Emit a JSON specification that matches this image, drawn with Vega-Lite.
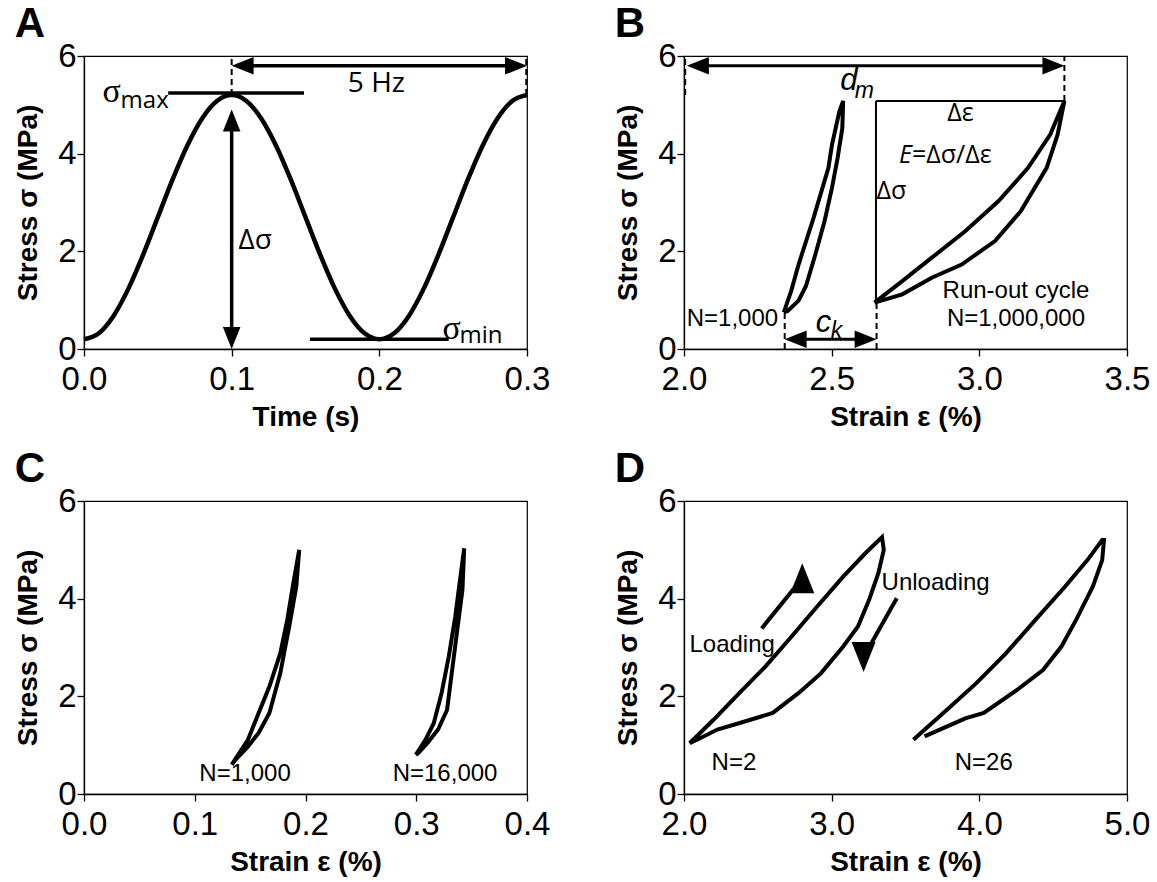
{
  "$schema": "https://vega.github.io/schema/vega-lite/v6.json",
  "background": "white",
  "padding": {"left": 14, "top": 2, "right": 5, "bottom": 5},
  "config": {
    "view": {"stroke": "black", "strokeWidth": 1.2},
    "font": "Liberation Sans",
    "axis": {"grid": false, "domainColor": "black", "domainWidth": 1.3, "tickColor": "black", "tickWidth": 1.3, "tickSize": 7,
      "labelFont": "Liberation Sans", "labelFontSize": 33, "labelColor": "black", "labelFlush": false, "labelOverlap": false, "labelBound": false,
      "titleFont": "Liberation Sans", "titleFontSize": 28, "titleFontWeight": "bold", "titleColor": "black"},
    "axisX": {"labelPadding": 7, "titlePadding": 7},
    "axisY": {"labelPadding": 1, "titlePadding": 15},
    "title": {"anchor": "start", "frame": "bounds", "fontSize": 42, "fontWeight": "bold", "color": "black", "font": "Liberation Sans", "offset": -6}
  },
  "datasets": {
    "A_curve": [
      {"x":0,"y":0.2},{"x":0.01,"y":0.322},{"x":0.02,"y":0.678},{"x":0.03,"y":1.231},{"x":0.04,"y":1.928},{"x":0.05,"y":2.7},
      {"x":0.06,"y":3.472},{"x":0.07,"y":4.169},{"x":0.08,"y":4.722},{"x":0.09,"y":5.078},{"x":0.1,"y":5.2},
      {"x":0.11,"y":5.078},{"x":0.12,"y":4.722},{"x":0.13,"y":4.169},{"x":0.14,"y":3.472},{"x":0.15,"y":2.7},
      {"x":0.16,"y":1.928},{"x":0.17,"y":1.231},{"x":0.18,"y":0.678},{"x":0.19,"y":0.322},{"x":0.2,"y":0.2},
      {"x":0.21,"y":0.322},{"x":0.22,"y":0.678},{"x":0.23,"y":1.231},{"x":0.24,"y":1.928},{"x":0.25,"y":2.7},
      {"x":0.26,"y":3.472},{"x":0.27,"y":4.169},{"x":0.28,"y":4.722},{"x":0.29,"y":5.078},{"x":0.3,"y":5.2}
    ],
    "A_thick": [
      {"x":0.057,"x2":0.149,"y":5.24,"y2":5.24},
      {"x":0.153,"x2":0.247,"y":0.2,"y2":0.2},
      {"x":0.1,"x2":0.1,"y":0.224,"y2":4.68},
      {"x":0.1074,"x2":0.2926,"y":5.8,"y2":5.8}
    ],
    "A_dash": [
      {"x":0.1,"x2":0.1,"y":5.2,"y2":6},
      {"x":0.2995,"x2":0.2995,"y":5.2,"y2":6}
    ],
    "A_heads": [
      {"x":0.1,"y":4.68,"dir":"up"},
      {"x":0.1,"y":0.224,"dir":"down"},
      {"x":0.1074,"y":5.8,"dir":"left"},
      {"x":0.2926,"y":5.8,"dir":"right"}
    ],
    "A_sig": [{"x":0.0187,"y":5.27,"label":"σ"},{"x":0.249,"y":0.41,"label":"σ"}],
    "A_sub": [{"x":0.0248,"y":5.08,"label":"max"},{"x":0.2543,"y":0.26,"label":"min"}],
    "A_lbl": [{"x":0.1159,"y":2.22,"label":"Δσ"},{"x":0.198,"y":5.43,"label":"5 Hz"}],
    "B_loops": [
      {"loop":"a","i":1,"x":2.338,"y":0.75},{"loop":"a","i":2,"x":2.363,"y":1.19},{"loop":"a","i":3,"x":2.388,"y":1.73},
      {"loop":"a","i":4,"x":2.439,"y":2.69},{"loop":"a","i":5,"x":2.489,"y":3.71},{"loop":"a","i":6,"x":2.501,"y":4.18},
      {"loop":"a","i":7,"x":2.526,"y":4.86},{"loop":"a","i":8,"x":2.539,"y":5.08},{"loop":"a","i":9,"x":2.536,"y":4.52},
      {"loop":"a","i":10,"x":2.52,"y":3.91},{"loop":"a","i":11,"x":2.501,"y":3.3},{"loop":"a","i":12,"x":2.476,"y":2.62},
      {"loop":"a","i":13,"x":2.445,"y":1.94},{"loop":"a","i":14,"x":2.413,"y":1.29},{"loop":"a","i":15,"x":2.388,"y":0.99},
      {"loop":"a","i":16,"x":2.351,"y":0.78},{"loop":"a","i":17,"x":2.338,"y":0.75},
      {"loop":"b","i":1,"x":2.645,"y":0.95},{"loop":"b","i":2,"x":2.739,"y":1.39},{"loop":"b","i":3,"x":2.839,"y":1.87},
      {"loop":"b","i":4,"x":2.952,"y":2.41},{"loop":"b","i":5,"x":3.065,"y":3.03},{"loop":"b","i":6,"x":3.165,"y":3.71},
      {"loop":"b","i":7,"x":3.24,"y":4.39},{"loop":"b","i":8,"x":3.288,"y":5.08},{"loop":"b","i":9,"x":3.265,"y":4.39},
      {"loop":"b","i":10,"x":3.228,"y":3.71},{"loop":"b","i":11,"x":3.14,"y":2.82},{"loop":"b","i":12,"x":3.053,"y":2.21},
      {"loop":"b","i":13,"x":2.94,"y":1.73},{"loop":"b","i":14,"x":2.839,"y":1.46},{"loop":"b","i":15,"x":2.739,"y":1.12},
      {"loop":"b","i":16,"x":2.645,"y":0.95}
    ],
    "B_thin": [
      {"x":2.65,"x2":2.65,"y":0.95,"y2":5.08},
      {"x":2.65,"x2":3.288,"y":5.08,"y2":5.08}
    ],
    "B_dash": [
      {"x":2.004,"x2":2.004,"y":5.2,"y2":6},
      {"x":3.288,"x2":3.288,"y":5.08,"y2":6},
      {"x":2.341,"x2":2.341,"y":0,"y2":0.75},
      {"x":2.652,"x2":2.652,"y":0,"y2":0.95}
    ],
    "B_thick": [
      {"x":2.047,"x2":3.251,"y":5.8,"y2":5.8},
      {"x":2.378,"x2":2.615,"y":0.2,"y2":0.2}
    ],
    "B_heads": [
      {"x":2.047,"y":5.8,"dir":"left"},{"x":3.251,"y":5.8,"dir":"right"},
      {"x":2.378,"y":0.2,"dir":"left"},{"x":2.615,"y":0.2,"dir":"right"}
    ],
    "B_arial": [
      {"x":2.164,"y":0.61,"label":"N=1,000"},
      {"x":3.124,"y":1.19,"label":"Run-out cycle"},
      {"x":3.124,"y":0.61,"label":"N=1,000,000"}
    ],
    "B_gill": [{"x":2.936,"y":4.83,"label":"Δε"},{"x":2.702,"y":3.23,"label":"Δσ"}],
    "B_gill_left": [{"x":2.772,"y":3.97,"label":"=Δσ/Δε"}],
    "B_E": [{"x":2.772,"y":3.97,"label":"E"}],
    "B_ital": [{"x":2.558,"y":5.48,"label":"d"},{"x":2.472,"y":0.54,"label":"c"}],
    "B_ital_sub": [{"x":2.611,"y":5.29,"label":"m"},{"x":2.516,"y":0.37,"label":"k"}],
    "C_loops": [
      {"loop":"a","i":1,"x":0.1334,"y":0.6},{"loop":"a","i":2,"x":0.148,"y":1.11},{"loop":"a","i":3,"x":0.1577,"y":1.66},
      {"loop":"a","i":4,"x":0.1674,"y":2.2},{"loop":"a","i":5,"x":0.1772,"y":2.88},{"loop":"a","i":6,"x":0.1836,"y":3.57},
      {"loop":"a","i":7,"x":0.1885,"y":4.25},{"loop":"a","i":8,"x":0.1943,"y":5.0},{"loop":"a","i":9,"x":0.1917,"y":4.25},
      {"loop":"a","i":10,"x":0.1853,"y":3.43},{"loop":"a","i":11,"x":0.1772,"y":2.47},{"loop":"a","i":12,"x":0.1674,"y":1.66},
      {"loop":"a","i":13,"x":0.1577,"y":1.25},{"loop":"a","i":14,"x":0.148,"y":0.97},{"loop":"a","i":15,"x":0.1367,"y":0.7},
      {"loop":"a","i":16,"x":0.1334,"y":0.6},
      {"loop":"b","i":1,"x":0.2996,"y":0.8},{"loop":"b","i":2,"x":0.3083,"y":1.11},{"loop":"b","i":3,"x":0.3158,"y":1.45},
      {"loop":"b","i":4,"x":0.3229,"y":2.07},{"loop":"b","i":5,"x":0.3294,"y":2.82},{"loop":"b","i":6,"x":0.3352,"y":3.63},
      {"loop":"b","i":7,"x":0.3391,"y":4.31},{"loop":"b","i":8,"x":0.3433,"y":5.03},{"loop":"b","i":9,"x":0.3417,"y":4.18},
      {"loop":"b","i":10,"x":0.3359,"y":3.16},{"loop":"b","i":11,"x":0.3278,"y":1.72},{"loop":"b","i":12,"x":0.3197,"y":1.32},
      {"loop":"b","i":13,"x":0.31,"y":1.04},{"loop":"b","i":14,"x":0.3019,"y":0.84},{"loop":"b","i":15,"x":0.2996,"y":0.8}
    ],
    "C_lbl": [{"x":0.1454,"y":0.4,"label":"N=1,000"},{"x":0.326,"y":0.4,"label":"N=16,000"}],
    "D_loops": [
      {"loop":"a","i":1,"x":2.038,"y":1.04},{"loop":"a","i":2,"x":2.2,"y":1.52},{"loop":"a","i":3,"x":2.376,"y":2.07},
      {"loop":"a","i":4,"x":2.551,"y":2.61},{"loop":"a","i":5,"x":2.727,"y":3.22},{"loop":"a","i":6,"x":2.902,"y":3.84},
      {"loop":"a","i":7,"x":3.078,"y":4.45},{"loop":"a","i":8,"x":3.228,"y":4.93},{"loop":"a","i":9,"x":3.341,"y":5.26},
      {"loop":"a","i":10,"x":3.353,"y":5.0},{"loop":"a","i":11,"x":3.316,"y":4.52},{"loop":"a","i":12,"x":3.253,"y":3.97},
      {"loop":"a","i":13,"x":3.178,"y":3.43},{"loop":"a","i":14,"x":3.078,"y":3.02},{"loop":"a","i":15,"x":2.927,"y":2.47},
      {"loop":"a","i":16,"x":2.777,"y":2.07},{"loop":"a","i":17,"x":2.601,"y":1.66},{"loop":"a","i":18,"x":2.451,"y":1.52},
      {"loop":"a","i":19,"x":2.226,"y":1.32},{"loop":"a","i":20,"x":2.088,"y":1.11},{"loop":"a","i":21,"x":2.038,"y":1.04},
      {"loop":"b","i":1,"x":3.554,"y":1.11},{"loop":"b","i":2,"x":3.604,"y":1.25},{"loop":"b","i":3,"x":3.779,"y":1.72},
      {"loop":"b","i":4,"x":3.98,"y":2.27},{"loop":"b","i":5,"x":4.18,"y":2.88},{"loop":"b","i":6,"x":4.381,"y":3.57},
      {"loop":"b","i":7,"x":4.581,"y":4.25},{"loop":"b","i":8,"x":4.732,"y":4.79},{"loop":"b","i":9,"x":4.832,"y":5.2},
      {"loop":"b","i":10,"x":4.844,"y":5.2},{"loop":"b","i":11,"x":4.832,"y":4.79},{"loop":"b","i":12,"x":4.769,"y":4.25},
      {"loop":"b","i":13,"x":4.656,"y":3.57},{"loop":"b","i":14,"x":4.556,"y":3.02},{"loop":"b","i":15,"x":4.431,"y":2.54},
      {"loop":"b","i":16,"x":4.255,"y":2.13},{"loop":"b","i":17,"x":4.03,"y":1.66},{"loop":"b","i":18,"x":3.905,"y":1.55},
      {"loop":"b","i":19,"x":3.779,"y":1.38},{"loop":"b","i":20,"x":3.629,"y":1.18}
    ],
    "D_shafts": [
      {"x":2.526,"x2":2.801,"y":3.39,"y2":4.418},
      {"x":3.441,"x2":3.216,"y":4.01,"y2":2.806}
    ],
    "D_heads": [
      {"x":2.801,"y":4.418,"dir":"ne"},
      {"x":3.216,"y":2.806,"dir":"sw"}
    ],
    "D_lbl": [
      {"x":2.326,"y":3.05,"label":"Loading"},
      {"x":3.704,"y":4.33,"label":"Unloading"},
      {"x":2.338,"y":0.63,"label":"N=2"},
      {"x":4.03,"y":0.63,"label":"N=26"}
    ]
  },
  "columns": 2,
  "spacing": {"row": 152, "column": 157},
  "bounds": "flush",
  "concat": [
    {
      "width": 443, "height": 293,
      "title": {"text": "A"},
      "encoding": {
        "x": {"field": "x", "type": "quantitative", "scale": {"domain": [0, 0.3], "nice": false, "zero": false}, "axis": {"values": [0, 0.1, 0.2, 0.3], "format": ".1f", "title": "Time (s)"}},
        "y": {"field": "y", "type": "quantitative", "scale": {"domain": [0, 6], "nice": false}, "axis": {"values": [0, 2, 4, 6], "format": "d", "title": "Stress σ (MPa)"}}
      },
      "layer": [
        {"data": {"name": "A_curve"}, "mark": {"type": "line", "interpolate": "monotone", "strokeWidth": 4.5, "color": "black"}},
        {"data": {"name": "A_thick"}, "mark": {"type": "rule", "strokeWidth": 3.5, "color": "black"}, "encoding": {"x2": {"field": "x2"}, "y2": {"field": "y2"}}},
        {"data": {"name": "A_dash"}, "mark": {"type": "rule", "strokeWidth": 2, "strokeDash": [6, 4], "color": "black"}, "encoding": {"x2": {"field": "x2"}, "y2": {"field": "y2"}}},
        {"data": {"name": "A_heads"}, "mark": {"type": "point", "filled": true, "color": "black", "opacity": 1, "size": 484},
          "encoding": {"shape": {"field": "dir", "type": "nominal", "legend": null, "scale": {"domain": ["up", "down", "left", "right"], "range": ["M0,-1L-0.8,1L0.8,1Z", "M0,1L-0.8,-1L0.8,-1Z", "M-1,0L1,-0.8L1,0.8Z", "M1,0L-1,-0.8L-1,0.8Z"]}}}},
        {"data": {"name": "A_sig"}, "mark": {"type": "text", "font": "Liberation Serif", "fontSize": 34, "color": "black"}, "encoding": {"text": {"field": "label"}}},
        {"data": {"name": "A_sub"}, "mark": {"type": "text", "font": "Open Sans", "fontSize": 24, "align": "left", "color": "black"}, "encoding": {"text": {"field": "label"}}},
        {"data": {"name": "A_lbl"}, "mark": {"type": "text", "font": "Open Sans", "fontSize": 28, "color": "black"}, "encoding": {"text": {"field": "label"}}}
      ]
    },
    {
      "width": 443, "height": 293,
      "title": {"text": "B"},
      "encoding": {
        "x": {"field": "x", "type": "quantitative", "scale": {"domain": [2, 3.5], "nice": false, "zero": false}, "axis": {"values": [2, 2.5, 3, 3.5], "format": ".1f", "title": "Strain ε (%)"}},
        "y": {"field": "y", "type": "quantitative", "scale": {"domain": [0, 6], "nice": false}, "axis": {"values": [0, 2, 4, 6], "format": "d", "title": "Stress σ (MPa)"}}
      },
      "layer": [
        {"data": {"name": "B_loops"}, "mark": {"type": "line", "strokeWidth": 4, "color": "black"}, "encoding": {"detail": {"field": "loop"}, "order": {"field": "i", "type": "quantitative"}}},
        {"data": {"name": "B_thin"}, "mark": {"type": "rule", "strokeWidth": 2, "color": "black"}, "encoding": {"x2": {"field": "x2"}, "y2": {"field": "y2"}}},
        {"data": {"name": "B_dash"}, "mark": {"type": "rule", "strokeWidth": 2, "strokeDash": [6, 4], "color": "black"}, "encoding": {"x2": {"field": "x2"}, "y2": {"field": "y2"}}},
        {"data": {"name": "B_thick"}, "mark": {"type": "rule", "strokeWidth": 3, "color": "black"}, "encoding": {"x2": {"field": "x2"}, "y2": {"field": "y2"}}},
        {"data": {"name": "B_heads"}, "mark": {"type": "point", "filled": true, "color": "black", "opacity": 1, "size": 484},
          "encoding": {"shape": {"field": "dir", "type": "nominal", "legend": null, "scale": {"domain": ["left", "right"], "range": ["M-1,0L1,-0.75L1,0.75Z", "M1,0L-1,-0.75L-1,0.75Z"]}}}},
        {"data": {"name": "B_arial"}, "mark": {"type": "text", "font": "Liberation Sans", "fontSize": 24, "color": "black"}, "encoding": {"text": {"field": "label"}}},
        {"data": {"name": "B_gill"}, "mark": {"type": "text", "font": "Open Sans", "fontSize": 25, "color": "black"}, "encoding": {"text": {"field": "label"}}},
        {"data": {"name": "B_gill_left"}, "mark": {"type": "text", "font": "Open Sans", "fontSize": 25, "align": "left", "color": "black"}, "encoding": {"text": {"field": "label"}}},
        {"data": {"name": "B_E"}, "mark": {"type": "text", "font": "Open Sans", "fontSize": 25, "fontStyle": "italic", "align": "right", "color": "black"}, "encoding": {"text": {"field": "label"}}},
        {"data": {"name": "B_ital"}, "mark": {"type": "text", "font": "Liberation Sans", "fontSize": 31, "fontStyle": "italic", "color": "black"}, "encoding": {"text": {"field": "label"}}},
        {"data": {"name": "B_ital_sub"}, "mark": {"type": "text", "font": "Liberation Sans", "fontSize": 23, "fontStyle": "italic", "color": "black"}, "encoding": {"text": {"field": "label"}}}
      ]
    },
    {
      "width": 443, "height": 293,
      "title": {"text": "C"},
      "encoding": {
        "x": {"field": "x", "type": "quantitative", "scale": {"domain": [0, 0.4], "nice": false, "zero": false}, "axis": {"values": [0, 0.1, 0.2, 0.3, 0.4], "format": ".1f", "title": "Strain ε (%)"}},
        "y": {"field": "y", "type": "quantitative", "scale": {"domain": [0, 6], "nice": false}, "axis": {"values": [0, 2, 4, 6], "format": "d", "title": "Stress σ (MPa)"}}
      },
      "layer": [
        {"data": {"name": "C_loops"}, "mark": {"type": "line", "strokeWidth": 4, "color": "black"}, "encoding": {"detail": {"field": "loop"}, "order": {"field": "i", "type": "quantitative"}}},
        {"data": {"name": "C_lbl"}, "mark": {"type": "text", "font": "Liberation Sans", "fontSize": 24, "color": "black"}, "encoding": {"text": {"field": "label"}}}
      ]
    },
    {
      "width": 443, "height": 293,
      "title": {"text": "D"},
      "encoding": {
        "x": {"field": "x", "type": "quantitative", "scale": {"domain": [2, 5], "nice": false, "zero": false}, "axis": {"values": [2, 3, 4, 5], "format": ".1f", "title": "Strain ε (%)"}},
        "y": {"field": "y", "type": "quantitative", "scale": {"domain": [0, 6], "nice": false}, "axis": {"values": [0, 2, 4, 6], "format": "d", "title": "Stress σ (MPa)"}}
      },
      "layer": [
        {"data": {"name": "D_loops"}, "mark": {"type": "line", "strokeWidth": 4, "color": "black"}, "encoding": {"detail": {"field": "loop"}, "order": {"field": "i", "type": "quantitative"}}},
        {"data": {"name": "D_shafts"}, "mark": {"type": "rule", "strokeWidth": 4, "color": "black"}, "encoding": {"x2": {"field": "x2"}, "y2": {"field": "y2"}}},
        {"data": {"name": "D_heads"}, "mark": {"type": "point", "filled": true, "color": "black", "opacity": 1, "size": 900},
          "encoding": {"shape": {"field": "dir", "type": "nominal", "legend": null, "scale": {"domain": ["ne", "sw"], "range": ["M0.616,-0.788L-1.325,0.234L0.093,1.342Z", "M-0.5,0.866L1.279,-0.416L-0.279,-1.316Z"]}}}},
        {"data": {"name": "D_lbl"}, "mark": {"type": "text", "font": "Liberation Sans", "fontSize": 24, "color": "black"}, "encoding": {"text": {"field": "label"}}}
      ]
    }
  ]
}
